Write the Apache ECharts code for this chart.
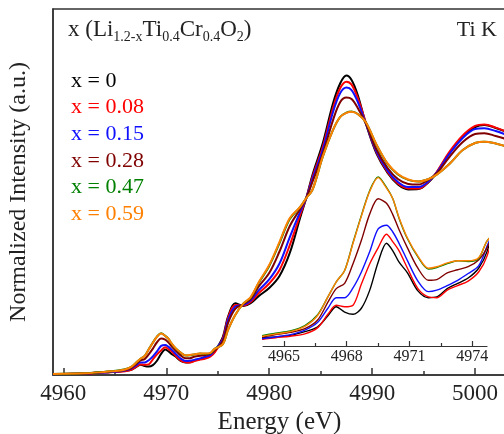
<!DOCTYPE html>
<html>
<head>
<meta charset="utf-8">
<script src="https://cdn.jsdelivr.net/npm/echarts@6/dist/echarts.min.js"></script>
<style>
  html, body { margin: 0; padding: 0; background: #fff; }
  #chart { width: 504px; height: 434px; }
</style>
</head>
<body>
<div id="chart"></div>
<script>
// energy grid (eV), shared by the main plot and the pre-edge inset
const energy = [4959, 4962,
  4964.0, 4964.6, 4965.3, 4966.0, 4966.6, 4967.1, 4967.5, 4967.9, 4968.3, 4968.7, 4969.1, 4969.5,
  4969.9, 4970.2, 4970.5, 4970.9, 4971.4, 4971.9, 4972.3, 4972.8, 4973.3, 4973.8, 4974.3, 4974.7,
  4975.5, 4976, 4976.7, 4977.5, 4978.2, 4979, 4980, 4981, 4982, 4983, 4983.6, 4984.2, 4985.2,
  4986.2, 4986.9, 4987.5, 4988, 4988.6, 4989.4, 4990.4, 4991.5, 4992.5, 4993.5, 4994.5, 4995.5,
  4996.3, 4997.5, 4998.8, 5000, 5000.9, 5002, 5003]

const x0 = [0.005, 0.008,
  0.015, 0.016, 0.018, 0.023, 0.029, 0.044, 0.056, 0.049, 0.046, 0.054, 0.078, 0.115,
  0.140, 0.130, 0.115, 0.101, 0.077, 0.068, 0.069, 0.080, 0.087, 0.094, 0.107, 0.129,
  0.209, 0.319, 0.392, 0.377, 0.392, 0.432, 0.475, 0.541, 0.667, 0.858, 0.967, 1.093, 1.266,
  1.485, 1.594, 1.636, 1.612, 1.530, 1.372, 1.213, 1.104, 1.041, 1.014, 1.016, 1.055,
  1.109, 1.213, 1.302, 1.355, 1.366, 1.350, 1.330]

const x008 = [0.005, 0.008,
  0.013, 0.015, 0.017, 0.020, 0.028, 0.046, 0.058, 0.056, 0.058, 0.086, 0.113, 0.134,
  0.152, 0.142, 0.130, 0.107, 0.080, 0.069, 0.068, 0.078, 0.084, 0.090, 0.102, 0.123,
  0.202, 0.311, 0.383, 0.380, 0.399, 0.448, 0.500, 0.574, 0.710, 0.874, 0.967, 1.082, 1.246,
  1.459, 1.568, 1.603, 1.587, 1.514, 1.377, 1.219, 1.109, 1.046, 1.019, 1.019, 1.057,
  1.112, 1.219, 1.309, 1.361, 1.369, 1.352, 1.330]

const x015 = [0.005, 0.008,
  0.014, 0.016, 0.019, 0.025, 0.035, 0.054, 0.068, 0.068, 0.081, 0.102, 0.129, 0.159,
  0.164, 0.155, 0.140, 0.117, 0.090, 0.076, 0.078, 0.084, 0.091, 0.100, 0.110, 0.136,
  0.194, 0.301, 0.374, 0.383, 0.407, 0.464, 0.522, 0.609, 0.754, 0.891, 0.967, 1.071, 1.230,
  1.437, 1.541, 1.571, 1.557, 1.492, 1.372, 1.224, 1.117, 1.055, 1.027, 1.027, 1.060,
  1.109, 1.208, 1.295, 1.344, 1.348, 1.333, 1.314]

const x028 = [0.005, 0.008,
  0.016, 0.019, 0.022, 0.027, 0.038, 0.062, 0.080, 0.087, 0.113, 0.144, 0.179, 0.199,
  0.193, 0.178, 0.158, 0.134, 0.107, 0.091, 0.092, 0.101, 0.105, 0.109, 0.118, 0.134,
  0.186, 0.284, 0.361, 0.388, 0.415, 0.486, 0.557, 0.675, 0.814, 0.907, 0.967, 1.055, 1.208,
  1.393, 1.492, 1.516, 1.508, 1.459, 1.372, 1.235, 1.131, 1.071, 1.044, 1.041, 1.068,
  1.104, 1.191, 1.273, 1.317, 1.321, 1.306, 1.290]

const x047 = [0.006, 0.009,
  0.018, 0.021, 0.024, 0.031, 0.045, 0.069, 0.089, 0.104, 0.141, 0.177, 0.210, 0.228,
  0.214, 0.199, 0.173, 0.146, 0.122, 0.106, 0.108, 0.113, 0.117, 0.116, 0.120, 0.143,
  0.169, 0.246, 0.328, 0.391, 0.423, 0.505, 0.596, 0.721, 0.852, 0.918, 0.967, 1.011, 1.191,
  1.339, 1.410, 1.434, 1.440, 1.426, 1.380, 1.260, 1.153, 1.096, 1.066, 1.057, 1.071,
  1.096, 1.153, 1.230, 1.268, 1.275, 1.265, 1.249]

const x059 = [0.006, 0.009,
  0.017, 0.020, 0.023, 0.030, 0.044, 0.069, 0.089, 0.104, 0.140, 0.176, 0.209, 0.227,
  0.213, 0.199, 0.174, 0.147, 0.123, 0.107, 0.109, 0.114, 0.117, 0.117, 0.121, 0.143,
  0.169, 0.246, 0.328, 0.391, 0.426, 0.508, 0.601, 0.727, 0.858, 0.918, 0.967, 1.011, 1.193,
  1.339, 1.410, 1.432, 1.439, 1.426, 1.380, 1.262, 1.156, 1.098, 1.068, 1.057, 1.071,
  1.096, 1.153, 1.230, 1.268, 1.275, 1.265, 1.249]

const seriesNames = ['x = 0', 'x = 0.08', 'x = 0.15', 'x = 0.28', 'x = 0.47', 'x = 0.59']
const seriesValues = [x0, x008, x015, x028, x047, x059]
const seriesColors = ['#000000', '#ff0000', '#1010ff', '#800000', '#008000', '#ff8000']

const tickValues = [4960, 4970, 4980, 4990, 5000]
const minorTickValues = [4965, 4975, 4985, 4995]
const insetTickValues = [4965, 4968, 4971, 4974]
const insetMinorTickValues = [4966.5, 4969.5, 4972.5]

const FONT = "'Liberation Serif', 'Times New Roman', serif"
const AXIS_COLOR = '#333'

const chart = echarts.init( document.getElementById( 'chart' ) )

function pairs( values ) {
  return energy.map( ( e, i ) => [e, values[i]] )
}

function getSeries() {
  const series = []
  seriesValues.forEach( ( values, i ) => {
    // main spectrum
    series.push( {
      name : seriesNames[i],
      type : 'line',
      xAxisIndex : 0,
      yAxisIndex : 0,
      smooth : 0.35,
      showSymbol : false,
      lineStyle : { color : seriesColors[i], width : 2 },
      data : pairs( values )
    } )
    // pre-edge inset
    series.push( {
      name : seriesNames[i],
      type : 'line',
      xAxisIndex : 2,
      yAxisIndex : 1,
      smooth : 0.3,
      showSymbol : false,
      clip : true,
      lineStyle : { color : seriesColors[i], width : 1.4 },
      data : pairs( values )
    } )
  } )
  return series
}

function getLegendTexts() {
  return seriesNames.map( ( name, i ) => ( {
    type : 'text',
    left : 71,
    top : 70 + i * 26.6,
    style : { text : name, fill : seriesColors[i], font : '22px ' + FONT }
  } ) )
}

const plain = v => String( v )

chart.setOption( {
  animation : false,
  backgroundColor : '#fff',
  grid : [
    { left : 53, top : 9, right : -2, bottom : 59, outerBoundsMode : 'none', containLabel : false,
      show : true, borderColor : AXIS_COLOR, borderWidth : 1.5 },
    { left : 263, top : 166, width : 224, height : 180, outerBoundsMode : 'none', containLabel : false }
  ],
  xAxis : [
    {
      type : 'value', gridIndex : 0, position : 'bottom', min : 4959, max : 5003,
      name : 'Energy (eV)', nameLocation : 'middle', nameGap : 34,
      nameTextStyle : { fontFamily : FONT, fontSize : 25, color : '#222' },
      axisLine : { lineStyle : { color : AXIS_COLOR, width : 1.5 } },
      axisTick : { inside : true, length : 7, customValues : tickValues, lineStyle : { color : AXIS_COLOR, width : 1.5 } },
      axisLabel : { customValues : tickValues, formatter : plain, fontFamily : FONT, fontSize : 23, color : '#222', margin : 7 },
      splitLine : { show : false }
    },
    {
      type : 'value', gridIndex : 0, position : 'bottom', min : 4959, max : 5003,
      axisLine : { show : false },
      axisTick : { inside : true, length : 4, customValues : minorTickValues, lineStyle : { color : AXIS_COLOR, width : 1.5 } },
      axisLabel : { show : false },
      splitLine : { show : false }
    },
    {
      type : 'value', gridIndex : 1, position : 'bottom', min : 4964, max : 4974.7,
      axisLine : { lineStyle : { color : AXIS_COLOR, width : 1.2 } },
      axisTick : { inside : true, length : 5, customValues : insetTickValues, lineStyle : { color : AXIS_COLOR, width : 1.2 } },
      axisLabel : { customValues : insetTickValues, formatter : plain, fontFamily : FONT, fontSize : 16, color : '#222', margin : 3 },
      splitLine : { show : false }
    },
    {
      type : 'value', gridIndex : 1, position : 'bottom', min : 4964, max : 4974.7,
      axisLine : { show : false },
      axisTick : { inside : true, length : 3, customValues : insetMinorTickValues, lineStyle : { color : AXIS_COLOR, width : 1.2 } },
      axisLabel : { show : false },
      splitLine : { show : false }
    }
  ],
  yAxis : [
    {
      type : 'value', gridIndex : 0, min : 0, max : 2,
      name : 'Normalized Intensity (a.u.)', nameLocation : 'middle', nameGap : 22,
      nameTextStyle : { fontFamily : FONT, fontSize : 24, color : '#222' },
      axisLine : { show : true, lineStyle : { color : AXIS_COLOR, width : 1.5 } },
      axisTick : { show : false },
      axisLabel : { show : false },
      splitLine : { show : false }
    },
    {
      type : 'value', gridIndex : 1, min : 0.004, max : 0.2424, show : false,
      splitLine : { show : false }
    }
  ],
  graphic : [
    {
      type : 'text',
      left : 68,
      top : 18,
      style : {
        text : '{m|x (Li}{s|1.2-x}{m|Ti}{s|0.4}{m|Cr}{s|0.4}{m|O}{s|2}{m|)}',
        fill : '#222',
        rich : {
          m : { fontFamily : FONT, fontSize : 23, fill : '#222' },
          s : { fontFamily : FONT, fontSize : 14, fill : '#222', padding : [16, 0, 0, 0] }
        }
      }
    },
    {
      type : 'text',
      right : 7,
      top : 19,
      style : { text : 'Ti K', fill : '#222', font : '22px ' + FONT }
    }
  ].concat( getLegendTexts() ),
  series : getSeries()
} )
</script>
</body>
</html>
